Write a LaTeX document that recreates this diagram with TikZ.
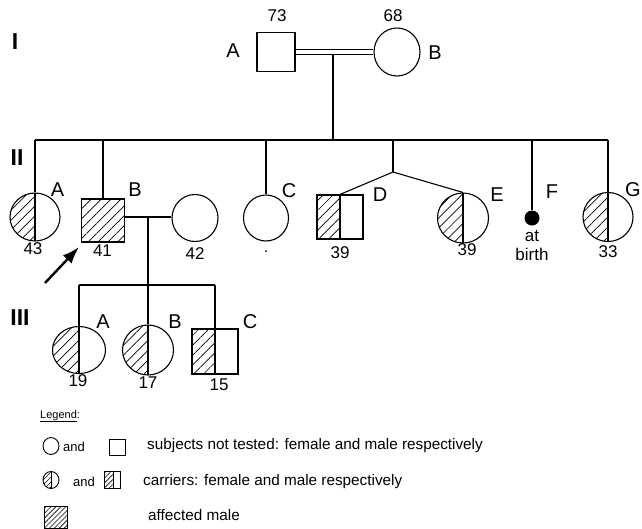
\documentclass[tikz,border=0pt]{standalone}
\usepackage{fontspec}
\setmainfont{Liberation Sans}
\usetikzlibrary{shapes.geometric,patterns.meta,arrows.meta,calc}
\tikzset{
  ln/.style={line width=1.1pt},
  fem/.style={draw, ellipse, inner sep=0pt, line width=1.1pt},
  mal/.style={draw, rectangle, inner sep=0pt, line width=1.1pt},
  hatch/.style={pattern={Lines[angle=45,distance=7pt,line width=0.7pt]}},
  hatchs/.style={pattern={Lines[angle=45,distance=3.5pt,line width=0.6pt]}},
  lefthalf/.style={path picture={
      \fill[hatch] (path picture bounding box.south west) rectangle (path picture bounding box.north);
      \draw[line width=1.1pt] (path picture bounding box.south) -- (path picture bounding box.north);}},
  lefthalfs/.style={path picture={
      \fill[hatchs] (path picture bounding box.south west) rectangle ($(path picture bounding box.north west)!#1!(path picture bounding box.north east)$);
      \draw[line width=0.9pt] ($(path picture bounding box.south west)!#1!(path picture bounding box.south east)$) -- ($(path picture bounding box.north west)!#1!(path picture bounding box.north east)$);}},
  lab/.style={font=\fontsize{20}{22}\selectfont, inner sep=0pt},
  num/.style={font=\fontsize{17}{19}\selectfont, inner sep=0pt},
  gen/.style={font=\fontsize{23}{25}\selectfont\bfseries, inner sep=0pt},
  legt/.style={font=\fontsize{15.3}{17}\selectfont, inner sep=0pt, anchor=base west},
  andf/.style={font=\fontsize{13}{15}\selectfont, inner sep=0pt, anchor=base west},
}
\begin{document}
\begin{tikzpicture}[x=1pt,y=-1pt]
\useasboundingbox (0,0) rectangle (642,528);
% generation numerals
\node[gen] (gI) at (15,42) {I};
\node[gen] (gII) at (17,158) {II};
\node[gen] (gIII) at (20,318) {III};
% generation I
\node[mal, minimum width=38pt, minimum height=39pt] (IA) at (276,52) {};
\node[fem, minimum width=46pt, minimum height=48pt] (IB) at (397,52) {};
\draw[line width=0.9pt, double, double distance=3.6pt] (IA.east) -- (IB.west);
\node[lab] (IAl) at (233,51) {A};
\node[num] (IAn) at (277,16) {73};
\node[lab] (IBl) at (435,53) {B};
\node[num] (IBn) at (393,16) {68};
\coordinate (IM) at (333,54.5);
\coordinate (S2) at (333,140);
\coordinate (S2L) at (35,140);
\coordinate (S2R) at (608,140);
\draw[ln] (IM) -- (S2);
\draw[ln] (S2L) -- (S2R);
% generation II
\node[fem, minimum width=50pt, minimum height=48pt, lefthalf] (IIA) at (35,217) {};
\node[mal, minimum width=43pt, minimum height=43pt, hatch] (IIB) at (103,220.5) {};
\node[fem, minimum width=46pt, minimum height=47pt] (IIBs) at (195,218) {};
\node[fem, minimum width=45pt, minimum height=46pt] (IIC) at (266,218) {};
\node[mal, minimum width=46pt, minimum height=44pt, lefthalf] (IID) at (340,217) {};
\node[fem, minimum width=51pt, minimum height=50pt, lefthalf] (IIE) at (463,218) {};
\node[fill, circle, inner sep=0pt, minimum size=15pt] (IIF) at (532,218) {};
\node[fem, minimum width=50pt, minimum height=49pt, lefthalf] (IIG) at (608,217) {};
\node[fill, circle, inner sep=0pt, minimum size=2pt] (IICd) at (266,251) {};
\foreach \n in {IIA,IIB,IIC,IIF,IIG} \draw[ln] (\n.north) -- (\n.north |- S2);
\coordinate (TW) at (393,172);
\draw[ln] (TW) -- (TW |- S2);
\draw[ln] (TW) -- (IID.north);
\draw[ln] (TW) -- (IIE.north);
\coordinate (M2) at (148,217);
\draw[ln] (IIB.east |- M2) -- (IIBs.west |- M2);
\coordinate (S3) at (148,285);
\draw[ln] (M2) -- (S3);
\node[lab] (IIAl) at (57.5,190) {A};
\node[num] (IIAn) at (33,249) {43};
\node[lab] (IIBl) at (135,190) {B};
\node[num] (IIBn) at (102.5,251) {41};
\node[num] (IIBsn) at (195,254) {42};
\node[lab] (IICl) at (289,191) {C};
\node[lab] (IIDl) at (380,195) {D};
\node[num] (IIDn) at (340,253) {39};
\node[lab] (IIEl) at (497,195) {E};
\node[num] (IIEn) at (467,250) {39};
\node[lab] (IIFl) at (552,192) {F};
\node[num, anchor=base] (IIFa) at (532,241) {at};
\node[num, anchor=base] (IIFb) at (532,260) {birth};
\node[lab] (IIGl) at (633,190) {G};
\node[num] (IIGn) at (608,252) {33};
\coordinate (arT) at (45,283);
\coordinate (arH) at (79,247);
\draw[line width=2.4pt, -{Latex[length=17pt,width=12pt]}] (arT) -- (arH);
% generation III
\node[fem, minimum width=53pt, minimum height=47pt, lefthalf] (IIIA) at (79,350) {};
\node[fem, minimum width=51pt, minimum height=50pt, lefthalf] (IIIB) at (148,350) {};
\node[mal, minimum width=46pt, minimum height=45pt, lefthalf] (IIIC) at (215,351.5) {};
\coordinate (S3L) at (79,285);
\coordinate (S3R) at (215,285);
\draw[ln] (S3L) -- (S3R);
\foreach \n in {IIIA,IIIB,IIIC} \draw[ln] (\n.north) -- (\n.north |- S3);
\node[lab] (IIIAl) at (103,322) {A};
\node[num] (IIIAn) at (78,381) {19};
\node[lab] (IIIBl) at (175,322) {B};
\node[num] (IIIBn) at (148,383) {17};
\node[lab] (IIICl) at (250,322) {C};
\node[num] (IIICn) at (219,385) {15};
% legend
\node[font=\fontsize{11}{13}\selectfont, inner sep=0pt, anchor=base west] (leg) at (40,418) {\underline{Legend}:};
\node[fem, line width=0.9pt, minimum width=16pt, minimum height=17pt] (L1f) at (51,446) {};
\node[andf] (L1and) at (63,451) {and};
\node[mal, line width=0.9pt, minimum width=16pt, minimum height=16pt] (L1m) at (117,447) {};
\node[legt] (L1t) at (147,449) {subjects not tested: female and male respectively};
\node[fem, line width=0.9pt, minimum width=16pt, minimum height=17pt, lefthalfs=0.5] (L2f) at (51,480) {};
\node[andf] (L2and) at (73,486) {and};
\node[mal, line width=0.9pt, minimum width=16pt, minimum height=17pt, lefthalfs=0.62] (L2m) at (112,480) {};
\node[legt] (L2t) at (143,485) {carriers: female and male respectively};
\node[mal, line width=0.9pt, minimum width=23pt, minimum height=22pt, hatchs] (L3m) at (56,517) {};
\node[legt] (L3t) at (148,520) {affected male};
\end{tikzpicture}
\end{document}
